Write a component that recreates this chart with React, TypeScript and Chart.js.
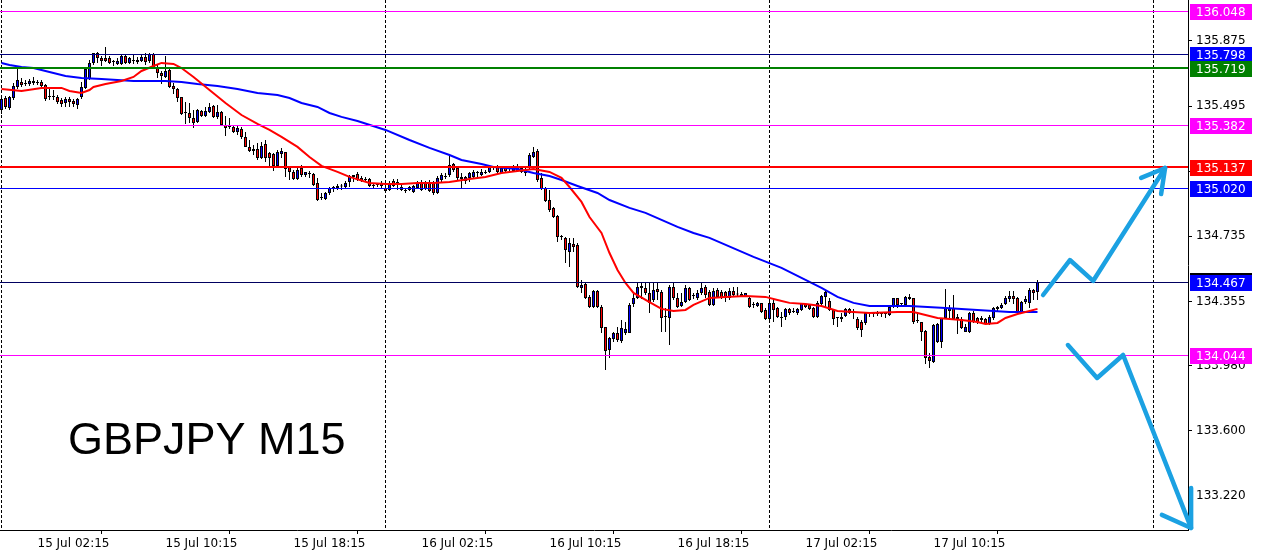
import { useEffect, useRef } from "react";
import { Chart, registerables } from "chart.js";

Chart.register(...registerables);

// [open, high, low, close] for each M15 bar, left to right
const candles: [number, number, number, number][] = [
  [135.472, 135.554, 135.449, 135.537], [135.542, 135.554, 135.478, 135.490], [135.484, 135.554, 135.472, 135.548], [135.542, 135.630, 135.531, 135.612],
  [135.607, 135.723, 135.595, 135.647], [135.636, 135.659, 135.607, 135.618], [135.630, 135.647, 135.612, 135.624], [135.624, 135.653, 135.612, 135.642],
  [135.642, 135.665, 135.618, 135.630], [135.630, 135.647, 135.618, 135.636], [135.636, 135.647, 135.607, 135.612], [135.618, 135.624, 135.525, 135.537],
  [135.548, 135.601, 135.531, 135.548], [135.548, 135.589, 135.531, 135.548], [135.548, 135.560, 135.507, 135.519], [135.531, 135.542, 135.490, 135.507],
  [135.513, 135.548, 135.490, 135.537], [135.537, 135.548, 135.490, 135.519], [135.525, 135.537, 135.490, 135.507], [135.502, 135.542, 135.478, 135.537],
  [135.548, 135.636, 135.537, 135.607], [135.601, 135.717, 135.595, 135.712], [135.653, 135.764, 135.647, 135.747], [135.747, 135.805, 135.735, 135.805],
  [135.805, 135.811, 135.747, 135.776], [135.776, 135.787, 135.729, 135.758], [135.776, 135.840, 135.752, 135.758], [135.776, 135.787, 135.741, 135.747],
  [135.752, 135.764, 135.729, 135.752], [135.741, 135.776, 135.735, 135.758], [135.741, 135.793, 135.735, 135.787], [135.787, 135.793, 135.741, 135.747],
  [135.747, 135.782, 135.741, 135.776], [135.758, 135.793, 135.741, 135.758], [135.752, 135.782, 135.741, 135.764], [135.758, 135.793, 135.752, 135.782],
  [135.782, 135.805, 135.735, 135.752], [135.758, 135.805, 135.747, 135.799], [135.799, 135.805, 135.717, 135.723], [135.723, 135.735, 135.659, 135.688],
  [135.688, 135.700, 135.624, 135.671], [135.665, 135.787, 135.659, 135.700], [135.706, 135.712, 135.601, 135.607], [135.612, 135.630, 135.566, 135.595],
  [135.595, 135.601, 135.519, 135.542], [135.548, 135.548, 135.443, 135.449], [135.455, 135.519, 135.391, 135.455], [135.455, 135.513, 135.397, 135.426],
  [135.426, 135.472, 135.367, 135.397], [135.402, 135.478, 135.397, 135.472], [135.467, 135.472, 135.432, 135.437], [135.437, 135.490, 135.432, 135.467],
  [135.461, 135.513, 135.455, 135.490], [135.496, 135.502, 135.426, 135.432], [135.432, 135.502, 135.420, 135.461], [135.461, 135.467, 135.379, 135.385],
  [135.385, 135.437, 135.321, 135.367], [135.373, 135.426, 135.362, 135.373], [135.373, 135.385, 135.338, 135.344], [135.344, 135.379, 135.327, 135.367],
  [135.362, 135.373, 135.303, 135.315], [135.315, 135.344, 135.257, 135.257], [135.257, 135.297, 135.227, 135.233], [135.245, 135.268, 135.210, 135.233],
  [135.245, 135.280, 135.181, 135.192], [135.192, 135.286, 135.187, 135.262], [135.274, 135.297, 135.169, 135.192], [135.222, 135.227, 135.140, 135.192],
  [135.216, 135.222, 135.117, 135.146], [135.146, 135.239, 135.140, 135.227], [135.216, 135.251, 135.192, 135.233], [135.227, 135.227, 135.082, 135.128],
  [135.140, 135.140, 135.064, 135.111], [135.111, 135.122, 135.064, 135.070], [135.070, 135.134, 135.064, 135.122], [135.134, 135.152, 135.082, 135.093],
  [135.093, 135.111, 135.082, 135.111], [135.105, 135.117, 135.076, 135.099], [135.099, 135.105, 135.029, 135.035], [135.047, 135.076, 134.942, 134.947],
  [134.959, 134.988, 134.947, 134.959], [134.953, 134.994, 134.947, 134.988], [134.988, 135.023, 134.977, 135.017], [135.012, 135.029, 134.994, 135.023],
  [135.017, 135.041, 135.006, 135.029], [135.026, 135.041, 135.006, 135.026], [135.023, 135.058, 135.017, 135.047], [135.052, 135.093, 135.023, 135.087],
  [135.082, 135.093, 135.052, 135.093], [135.099, 135.111, 135.058, 135.064], [135.076, 135.087, 135.052, 135.058], [135.070, 135.082, 135.052, 135.064],
  [135.070, 135.076, 135.023, 135.029], [135.029, 135.041, 135.017, 135.029], [135.035, 135.047, 135.023, 135.035], [135.029, 135.058, 135.017, 135.047],
  [135.017, 135.029, 134.994, 135.000], [135.006, 135.058, 135.000, 135.047], [135.058, 135.070, 135.023, 135.029], [135.035, 135.070, 135.006, 135.052],
  [135.023, 135.035, 135.000, 135.006], [135.000, 135.017, 134.988, 135.000], [135.006, 135.029, 135.000, 135.023], [134.994, 135.035, 134.988, 135.029],
  [135.017, 135.058, 135.012, 135.047], [135.052, 135.064, 135.000, 135.006], [135.047, 135.058, 135.006, 135.012], [135.052, 135.064, 134.994, 135.000],
  [135.047, 135.058, 134.977, 134.988], [134.988, 135.087, 134.982, 135.076], [135.064, 135.105, 135.052, 135.093], [135.082, 135.105, 135.070, 135.082],
  [135.093, 135.210, 135.082, 135.152], [135.157, 135.163, 135.111, 135.122], [135.134, 135.146, 135.064, 135.076], [135.082, 135.105, 135.012, 135.070],
  [135.058, 135.087, 135.041, 135.082], [135.076, 135.111, 135.052, 135.105], [135.082, 135.122, 135.070, 135.111], [135.105, 135.117, 135.082, 135.111],
  [135.093, 135.128, 135.087, 135.111], [135.105, 135.122, 135.099, 135.111], [135.111, 135.152, 135.105, 135.140], [135.134, 135.146, 135.122, 135.134],
  [135.140, 135.152, 135.105, 135.111], [135.105, 135.146, 135.099, 135.134], [135.134, 135.146, 135.111, 135.117], [135.128, 135.140, 135.117, 135.128],
  [135.117, 135.152, 135.111, 135.140], [135.140, 135.157, 135.111, 135.117], [135.134, 135.146, 135.105, 135.111], [135.122, 135.134, 135.087, 135.105],
  [135.140, 135.222, 135.122, 135.210], [135.198, 135.257, 135.192, 135.227], [135.233, 135.245, 135.052, 135.064], [135.076, 135.105, 135.006, 135.012],
  [135.017, 135.023, 134.936, 134.942], [134.947, 135.006, 134.877, 134.889], [134.901, 134.906, 134.842, 134.848], [134.854, 134.860, 134.702, 134.732],
  [134.732, 134.743, 134.714, 134.732], [134.726, 134.732, 134.580, 134.656], [134.644, 134.726, 134.556, 134.697], [134.691, 134.726, 134.644, 134.673],
  [134.685, 134.697, 134.434, 134.440], [134.434, 134.481, 134.405, 134.452], [134.457, 134.463, 134.370, 134.376], [134.382, 134.393, 134.317, 134.323],
  [134.323, 134.422, 134.317, 134.417], [134.417, 134.422, 134.317, 134.323], [134.323, 134.335, 134.171, 134.201], [134.206, 134.206, 133.956, 134.066],
  [134.072, 134.148, 134.026, 134.142], [134.136, 134.177, 134.119, 134.171], [134.171, 134.206, 134.119, 134.131], [134.125, 134.247, 134.113, 134.201],
  [134.171, 134.236, 134.160, 134.195], [134.171, 134.347, 134.171, 134.335], [134.341, 134.399, 134.323, 134.376], [134.376, 134.469, 134.370, 134.440],
  [134.446, 134.469, 134.370, 134.434], [134.434, 134.469, 134.393, 134.405], [134.405, 134.469, 134.288, 134.347], [134.364, 134.469, 134.352, 134.422],
  [134.428, 134.469, 134.364, 134.411], [134.411, 134.422, 134.177, 134.259], [134.265, 134.317, 134.177, 134.265], [134.259, 134.452, 134.101, 134.440],
  [134.440, 134.463, 134.364, 134.376], [134.376, 134.405, 134.317, 134.323], [134.329, 134.405, 134.323, 134.352], [134.352, 134.452, 134.347, 134.434],
  [134.434, 134.440, 134.358, 134.364], [134.387, 134.405, 134.370, 134.387], [134.376, 134.422, 134.364, 134.405], [134.405, 134.469, 134.393, 134.434],
  [134.440, 134.452, 134.376, 134.393], [134.411, 134.422, 134.329, 134.335], [134.335, 134.434, 134.329, 134.417], [134.422, 134.434, 134.382, 134.382],
  [134.411, 134.422, 134.370, 134.376], [134.411, 134.417, 134.352, 134.376], [134.376, 134.434, 134.364, 134.417], [134.417, 134.440, 134.382, 134.393],
  [134.396, 134.440, 134.382, 134.396], [134.399, 134.411, 134.382, 134.387], [134.387, 134.405, 134.382, 134.405], [134.376, 134.382, 134.317, 134.323],
  [134.335, 134.352, 134.317, 134.335], [134.329, 134.352, 134.323, 134.347], [134.347, 134.347, 134.288, 134.294], [134.306, 134.317, 134.247, 134.253],
  [134.253, 134.376, 134.230, 134.347], [134.347, 134.370, 134.236, 134.306], [134.317, 134.323, 134.259, 134.265], [134.265, 134.294, 134.206, 134.259],
  [134.265, 134.317, 134.247, 134.312], [134.312, 134.317, 134.276, 134.288], [134.294, 134.317, 134.288, 134.294], [134.288, 134.317, 134.276, 134.312],
  [134.306, 134.347, 134.300, 134.347], [134.341, 134.347, 134.317, 134.323], [134.335, 134.341, 134.306, 134.312], [134.317, 134.323, 134.259, 134.265],
  [134.265, 134.358, 134.259, 134.347], [134.341, 134.393, 134.335, 134.387], [134.382, 134.422, 134.323, 134.411], [134.358, 134.376, 134.300, 134.306],
  [134.306, 134.312, 134.218, 134.253], [134.259, 134.265, 134.206, 134.259], [134.253, 134.288, 134.236, 134.265], [134.271, 134.317, 134.265, 134.312],
  [134.312, 134.317, 134.282, 134.288], [134.288, 134.312, 134.253, 134.300], [134.253, 134.265, 134.189, 134.201], [134.236, 134.247, 134.148, 134.189],
  [134.230, 134.294, 134.218, 134.288], [134.288, 134.294, 134.265, 134.288], [134.282, 134.294, 134.265, 134.288], [134.294, 134.300, 134.271, 134.282],
  [134.294, 134.294, 134.265, 134.282], [134.282, 134.294, 134.259, 134.282], [134.276, 134.335, 134.271, 134.323], [134.323, 134.376, 134.317, 134.376],
  [134.376, 134.376, 134.317, 134.335], [134.341, 134.347, 134.329, 134.341], [134.335, 134.387, 134.329, 134.382], [134.382, 134.399, 134.364, 134.370],
  [134.376, 134.376, 134.224, 134.236], [134.241, 134.294, 134.230, 134.241], [134.236, 134.236, 134.125, 134.177], [134.183, 134.189, 133.991, 134.026],
  [134.031, 134.055, 133.967, 134.008], [134.002, 134.224, 133.996, 134.218], [134.119, 134.230, 134.113, 134.224], [134.119, 134.259, 134.084, 134.259],
  [134.259, 134.428, 134.259, 134.317], [134.300, 134.335, 134.247, 134.317], [134.317, 134.393, 134.247, 134.253], [134.265, 134.282, 134.166, 134.253],
  [134.253, 134.265, 134.195, 134.201], [134.177, 134.224, 134.177, 134.206], [134.177, 134.294, 134.171, 134.288], [134.288, 134.300, 134.230, 134.236],
  [134.259, 134.265, 134.224, 134.236], [134.247, 134.271, 134.236, 134.259], [134.253, 134.259, 134.218, 134.224], [134.224, 134.276, 134.218, 134.265],
  [134.259, 134.323, 134.247, 134.317], [134.312, 134.329, 134.294, 134.323], [134.317, 134.347, 134.312, 134.335], [134.341, 134.387, 134.335, 134.376],
  [134.370, 134.417, 134.352, 134.387], [134.387, 134.417, 134.341, 134.370], [134.376, 134.382, 134.288, 134.294], [134.288, 134.358, 134.282, 134.352],
  [134.352, 134.387, 134.341, 134.370], [134.347, 134.434, 134.317, 134.422], [134.422, 134.428, 134.364, 134.405], [134.411, 134.481, 134.364, 134.467],
];

// fast moving average (red), sampled at bar indices
const redMaIndex = [0, 5, 10, 15, 17, 20, 22, 23, 26, 30, 33, 35, 38, 40, 43, 45, 48, 52, 56, 60, 64, 67, 70, 74, 77, 80, 84, 87, 92, 96, 100, 104, 108, 112, 117, 121, 125, 129, 133, 137, 140, 142, 145, 147, 150, 152, 154, 156, 158, 162, 165, 168, 171, 173, 177, 181, 186, 191, 194, 197, 201, 205, 209, 213, 217, 224, 228, 231, 234, 237, 240, 244, 246, 249, 251, 254, 256, 259];
const redMaValues = [135.595, 135.583, 135.601, 135.601, 135.583, 135.572, 135.589, 135.607, 135.624, 135.642, 135.665, 135.700, 135.729, 135.747, 135.741, 135.717, 135.665, 135.589, 135.513, 135.443, 135.391, 135.356, 135.315, 135.257, 135.198, 135.146, 135.111, 135.082, 135.047, 135.041, 135.041, 135.047, 135.047, 135.052, 135.070, 135.082, 135.105, 135.117, 135.128, 135.111, 135.076, 135.023, 134.936, 134.848, 134.755, 134.638, 134.539, 134.463, 134.405, 134.352, 134.312, 134.300, 134.306, 134.335, 134.376, 134.382, 134.387, 134.382, 134.364, 134.347, 134.341, 134.329, 134.300, 134.294, 134.288, 134.294, 134.294, 134.276, 134.259, 134.253, 134.247, 134.236, 134.224, 134.230, 134.259, 134.282, 134.294, 134.312];

// slow moving average (blue), sampled at bar indices
const blueMaIndex = [0, 2, 5, 8, 12, 16, 20, 25, 29, 33, 37, 41, 45, 49, 54, 59, 64, 69, 72, 75, 79, 82, 85, 89, 96, 102, 107, 112, 115, 120, 123, 126, 129, 133, 137, 140, 144, 149, 152, 157, 161, 165, 169, 173, 177, 188, 195, 201, 205, 209, 213, 217, 227, 236, 244, 252, 259];
const blueMaValues = [135.747, 135.735, 135.723, 135.717, 135.694, 135.671, 135.659, 135.653, 135.647, 135.642, 135.642, 135.642, 135.636, 135.624, 135.612, 135.595, 135.572, 135.560, 135.542, 135.513, 135.490, 135.455, 135.432, 135.408, 135.356, 135.297, 135.251, 135.210, 135.181, 135.157, 135.140, 135.134, 135.128, 135.105, 135.087, 135.064, 135.029, 134.988, 134.947, 134.901, 134.872, 134.831, 134.790, 134.755, 134.726, 134.615, 134.551, 134.481, 134.434, 134.382, 134.347, 134.329, 134.329, 134.317, 134.306, 134.294, 134.294];

const yTickValues = [133.22, 133.6, 133.98, 134.355, 134.735, 135.115, 135.495, 135.875];
const xTickIndex = [9, 41, 73, 105, 137, 169, 201, 233];
const xTickLabels = ["15 Jul 02:15", "15 Jul 10:15", "15 Jul 18:15", "16 Jul 02:15", "16 Jul 10:15", "16 Jul 18:15", "17 Jul 02:15", "17 Jul 10:15"];
const daySeparators = [0, 96, 192, 288];

const levelValues = [136.048, 135.798, 135.719, 135.382, 135.137, 135.02, 134.467, 134.044];
const levelLineColors = ["#ff00ff", "#000080", "#008000", "#ff00ff", "#ff0000", "#0000ff", "#000060", "#ff00ff"];
const levelBoxColors = ["#ff00ff", "#0000ff", "#008000", "#ff00ff", "#ff0000", "#0000ff", "#0000ff", "#ff00ff"];
const levelWidths = [1, 1, 2, 1, 2, 1, 1, 1];

// hand-drawn scenario arrows (bar index, price)
const arrowUpIndex = [260.4, 267.1, 272.9, 290.9];
const arrowUpPrice = [134.393, 134.597, 134.475, 135.134];
const arrowUpHeadIndex = [284.9, 290.9, 289.9];
const arrowUpHeadPrice = [135.076, 135.134, 134.982];
const arrowDownIndex = [266.6, 273.9, 280.4, 297.4];
const arrowDownPrice = [134.101, 133.909, 134.043, 133.034];
const arrowDownHeadIndex = [290.1, 297.4, 297.4];
const arrowDownHeadPrice = [133.11, 133.034, 133.267];

const titleText = "GBPJPY M15";

const BULL = "#0000ff";
const BEAR = "#ff0000";
const ARROW = "#1ba1e2";
const FONT = "DejaVu Sans";

export default function App() {
  const ref = useRef<HTMLCanvasElement>(null);

  useEffect(() => {
    document.body.style.margin = "0";
    const canvas = ref.current;
    if (!canvas) return;

    const overlay = {
      id: "overlay",
      beforeDatasetsDraw(chart: any) {
        const { ctx, chartArea, scales } = chart;
        const x = scales.x;
        ctx.save();
        ctx.strokeStyle = "#000";
        ctx.lineWidth = 1;
        ctx.setLineDash([3, 2]);
        for (const d of daySeparators) {
          const px = Math.floor(x.getPixelForValue(d)) + 0.5;
          ctx.beginPath();
          ctx.moveTo(px, chartArea.top);
          ctx.lineTo(px, chartArea.bottom);
          ctx.stroke();
        }
        ctx.restore();
      },
      afterDatasetsDraw(chart: any) {
        const { ctx, chartArea, scales } = chart;
        const x = scales.x;
        const y = scales.y;
        ctx.save();
        ctx.setLineDash([]);
        levelValues.forEach((v, k) => {
          const w = levelWidths[k];
          let py = Math.round(y.getPixelForValue(v));
          if (w % 2 === 1) py += 0.5;
          ctx.strokeStyle = levelLineColors[k];
          ctx.lineWidth = w;
          ctx.beginPath();
          ctx.moveTo(chartArea.left, py);
          ctx.lineTo(chartArea.right, py);
          ctx.stroke();
        });

        const path = (xs: number[], ys: number[]) => {
          ctx.beginPath();
          xs.forEach((xv, k) => {
            const px = x.getPixelForValue(xv);
            const py = y.getPixelForValue(ys[k]);
            if (k === 0) ctx.moveTo(px, py);
            else ctx.lineTo(px, py);
          });
          ctx.stroke();
        };
        ctx.strokeStyle = ARROW;
        ctx.lineWidth = 4.5;
        ctx.lineJoin = "round";
        ctx.lineCap = "round";
        path(arrowUpIndex, arrowUpPrice);
        path(arrowUpHeadIndex, arrowUpHeadPrice);
        path(arrowDownIndex, arrowDownPrice);
        path(arrowDownHeadIndex, arrowDownHeadPrice);

        ctx.fillStyle = "#000";
        ctx.font = '45px "Liberation Sans"';
        ctx.textBaseline = "alphabetic";
        ctx.textAlign = "left";
        ctx.fillText(titleText, 68, 454);
        ctx.restore();
      },
      afterDraw(chart: any) {
        const { ctx, chartArea, scales } = chart;
        const y = scales.y;
        ctx.save();
        ctx.font = `12px "${FONT}"`;
        ctx.textBaseline = "middle";
        ctx.textAlign = "left";
        levelValues.forEach((v, k) => {
          const top = Math.round(y.getPixelForValue(v)) - 7;
          const left = chartArea.right + 2;
          if (k === 6) {
            ctx.fillStyle = "#000";
            ctx.fillRect(left, top - 2, 62, 2);
          }
          ctx.fillStyle = levelBoxColors[k];
          ctx.fillRect(left, top, 62, 16);
          ctx.fillStyle = "#fff";
          ctx.fillText(v.toFixed(3), chartArea.right + 8, top + 8.5);
        });
        ctx.restore();
      },
    };

    Chart.defaults.font.family = FONT;
    Chart.defaults.color = "#000";

    const chart = new Chart(canvas, {
      type: "bar",
      data: {
        datasets: [
          {
            type: "line",
            data: redMaIndex.map((xv, k) => ({ x: xv, y: redMaValues[k] })),
            borderColor: "#ff0000",
            borderWidth: 2,
            pointRadius: 0,
            fill: false,
            order: 0,
          } as any,
          {
            type: "line",
            data: blueMaIndex.map((xv, k) => ({ x: xv, y: blueMaValues[k] })),
            borderColor: "#0000ff",
            borderWidth: 2,
            pointRadius: 0,
            fill: false,
            order: 1,
          } as any,
          {
            type: "bar",
            data: candles.map((c, i) => ({ x: i, y: [c[0], c[3]] })),
            backgroundColor: candles.map((c) => (c[3] > c[0] ? BULL : c[3] < c[0] ? BEAR : "#000")),
            borderColor: "#000",
            borderWidth: 1,
            borderSkipped: false,
            barThickness: 3,
            minBarLength: 1,
            grouped: false,
            inflateAmount: 0,
            order: 2,
          } as any,
          {
            type: "bar",
            data: candles.map((c, i) => ({ x: i, y: [c[2], c[1]] })),
            backgroundColor: "#000",
            borderWidth: 0,
            barThickness: 1,
            grouped: false,
            inflateAmount: 0,
            order: 3,
          } as any,
        ],
      },
      options: {
        responsive: false,
        animation: false,
        devicePixelRatio: 1,
        layout: { padding: 0 },
        plugins: { legend: { display: false }, tooltip: { enabled: false }, title: { display: false } },
        scales: {
          x: {
            type: "linear",
            position: "bottom",
            min: -0.375,
            max: 296.625,
            offset: false,
            afterBuildTicks: (scale: any) => {
              scale.ticks = xTickIndex.map((value) => ({ value }));
            },
            afterFit: (scale: any) => {
              scale.height = 25;
              scale.paddingLeft = 0;
              scale.paddingRight = 0;
            },
            ticks: {
              autoSkip: false,
              maxRotation: 0,
              minRotation: 0,
              align: "start",
              padding: 3,
              font: { family: FONT, size: 12 },
              color: "#000",
              callback: (_v: any, idx: number) => xTickLabels[idx],
            },
            grid: { display: true, drawOnChartArea: false, drawTicks: true, tickLength: 4, tickColor: "#000" },
            border: { display: true, color: "#000", width: 1 },
          },
          y: {
            type: "linear",
            position: "right",
            min: 133.022,
            max: 136.114,
            afterBuildTicks: (scale: any) => {
              scale.ticks = yTickValues.map((value) => ({ value }));
            },
            afterFit: (scale: any) => {
              scale.width = 73;
              scale.paddingTop = 0;
              scale.paddingBottom = 0;
            },
            ticks: {
              padding: 4,
              font: { family: FONT, size: 12 },
              color: "#000",
              callback: (v: any) => Number(v).toFixed(3),
            },
            grid: { display: true, drawOnChartArea: false, drawTicks: true, tickLength: 4, tickColor: "#000" },
            border: { display: true, color: "#000", width: 1 },
          },
        },
      } as any,
      plugins: [overlay],
    });

    return () => chart.destroy();
  }, []);

  return (
    <div style={{ width: 1261, height: 555 }}>
      <canvas ref={ref} width={1261} height={555} style={{ display: "block" }} />
    </div>
  );
}
